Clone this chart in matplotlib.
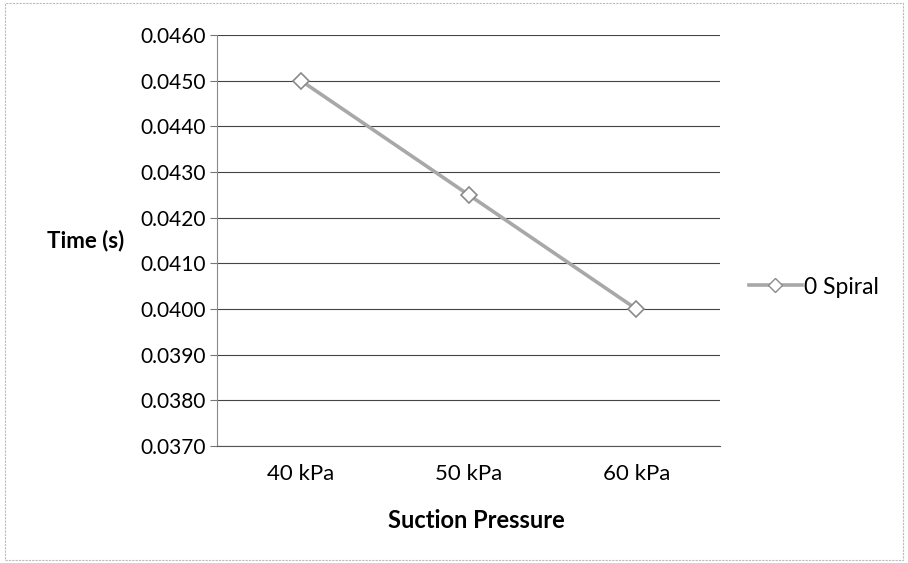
import matplotlib
matplotlib.use("Agg")
import matplotlib.pyplot as plt
from matplotlib.lines import Line2D
from matplotlib.patches import Rectangle

categories = ["40 kPa", "50 kPa", "60 kPa"]
series_name = "0 Spiral"
values = [0.0450, 0.0425, 0.0400]
yticks = [0.0370, 0.0380, 0.0390, 0.0400, 0.0410, 0.0420, 0.0430, 0.0440, 0.0450, 0.0460]

plt.rcParams['font.family'] = ['Lato', 'DejaVu Sans']

fig = plt.figure(figsize=(9.08, 5.63), dpi=100)
ax = fig.add_axes([0.239, 0.208, 0.554, 0.730])

x = list(range(len(categories)))
line_color = "#a8a8a8"
ax.plot(x, values, color=line_color, lw=2.6, marker="D", markersize=8,
        markerfacecolor="white", markeredgecolor="#8a8a8a", markeredgewidth=1.2,
        zorder=3, label=series_name)

ax.set_xlim(-0.5, 2.5)
ax.set_ylim(0.0370, 0.0460)
ax.set_yticks(yticks)
ax.set_yticklabels([f"{v:.4f}" for v in yticks], fontsize=15)
ax.set_xticks(x)
ax.set_xticklabels(categories, fontsize=16)
ax.tick_params(axis='x', length=0, pad=13)
ax.tick_params(axis='y', length=5, width=0.8, color="#777777", pad=3)

ax.grid(axis='y', color="#444444", lw=0.8)
ax.set_axisbelow(True)
for s in ["top", "right"]:
    ax.spines[s].set_visible(False)
ax.spines["left"].set_color("#888888")
ax.spines["bottom"].set_color("#555555")
ax.spines["left"].set_linewidth(0.8)
ax.spines["bottom"].set_linewidth(0.8)

fig.text(86 / 908, 1 - 241 / 563, "Time (s)", fontsize=16, fontweight="bold", ha="center", va="center")
fig.text(476 / 908, 1 - 520 / 563, "Suction Pressure", fontsize=17, fontweight="bold", ha="center", va="center")

handle = Line2D([], [], color=line_color, lw=2.6, marker="D", markersize=7,
                markerfacecolor="white", markeredgecolor="#8a8a8a")
fig.legend([handle], [series_name], loc="center left", bbox_to_anchor=(0.825, 1 - 287 / 563),
           frameon=False, fontsize=16.5, handlelength=2.3, handletextpad=0.1, borderpad=0,
           borderaxespad=0)

fig.add_artist(Rectangle((0.006, 0.006), 0.988, 0.988, transform=fig.transFigure,
                         fill=False, edgecolor="#bbbbbb", lw=0.8, ls=(0, (2, 1))))

fig.savefig("out.png", dpi=100)
